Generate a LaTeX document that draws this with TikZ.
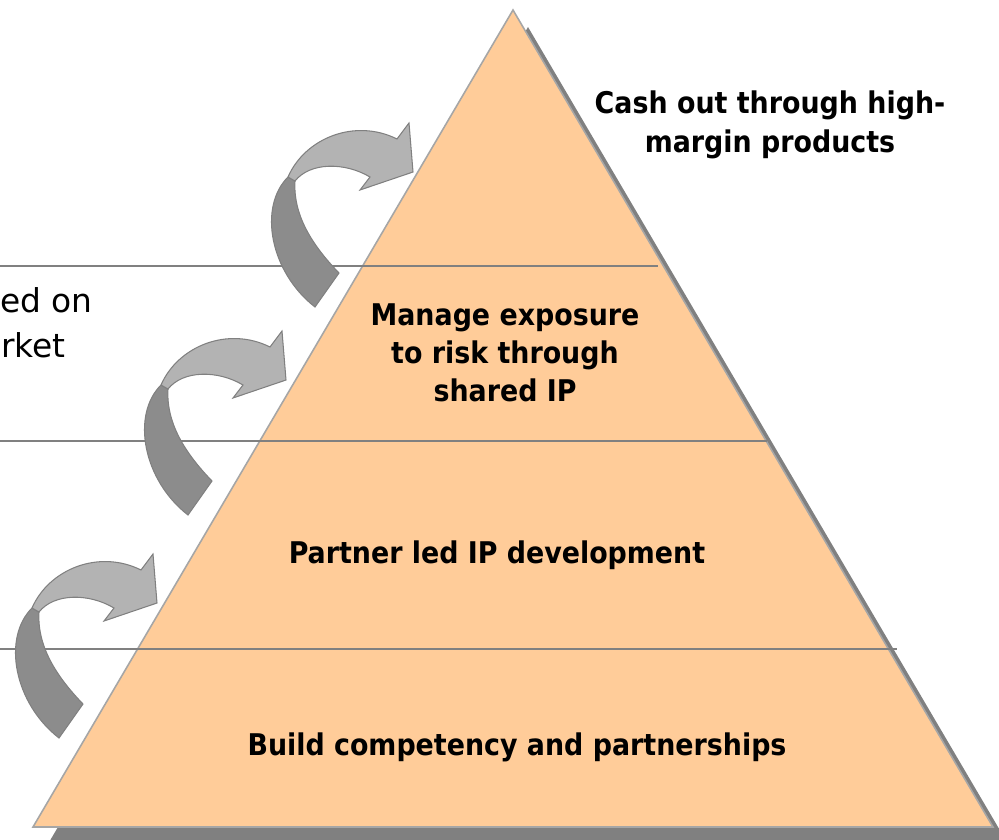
\documentclass[tikz,border=0pt]{standalone}
\usepackage{fontspec}
\setmainfont{DejaVu Sans Condensed}
\newfontfamily\sidefont{DejaVu Sans}
\usepackage{tikz}

\definecolor{peach}{HTML}{FFCC99}
\definecolor{edgegray}{HTML}{A6A6A6}
\definecolor{shadowgray}{HTML}{808080}
\definecolor{bandlight}{HTML}{B3B3B3}
\definecolor{banddark}{HTML}{8C8C8C}

\tikzset{
	tierlabel/.style={font=\bfseries\fontsize{17}{21.8}\selectfont, inner sep=0pt, align=center},
	sidelabel/.style={font=\sidefont\fontsize{18.7}{25}\selectfont, inner sep=0pt},
	tierline/.style={shadowgray, line width=1.5pt},
	bandedge/.style={draw=shadowgray, line width=0.6pt}
}

\begin{document}
\begin{tikzpicture}[x=0.02cm, y=-0.02cm]
\useasboundingbox (0,0) rectangle (999,839);
\clip (0,0) rectangle (999,839);
%shadow
\fill[shadowgray] (528,27) -- (1008,844) -- (48,844) -- cycle;
%pyramid
\filldraw[fill=peach, draw=edgegray, line width=0.9pt] (513,10) -- (993,827) -- (33,827) -- cycle;
%tier lines
\foreach \y/\xe in {266/658, 441/767, 649/897}{
	\draw[tierline] (0,\y) -- (\xe,\y);
	}
%curved arrows
\foreach \tx/\ty in {413/172, 286/380, 157/603}{
	\begin{scope}[shift={(\tx,\ty)}]
		\filldraw[fill=banddark, bandedge] (-125,5) .. controls (-155,35) and (-143,100) .. (-98,135)
			-- (-74,101) .. controls (-101,73) and (-120,43) .. (-118,9) -- cycle;
		\filldraw[fill=bandlight, bandedge] (-125,5) .. controls (-108,-34) and (-58,-54) .. (-16,-33)
			-- (-4,-49) -- (0,0) -- (-53,18) -- (-43,5)
			.. controls (-68,-10) and (-103,-10) .. (-118,9) -- cycle;
	\end{scope}
	}
%labels
\node[tierlabel] (cashout) at (770,125) {Cash out through high-\\margin products};
\node[tierlabel] (manage) at (505,353) {Manage exposure\\to risk through\\shared IP};
\node[tierlabel, anchor=base] (partner) at (497,563) {Partner led IP development};
\node[tierlabel, anchor=base] (build) at (517,755) {Build competency and partnerships};
\node[sidelabel, anchor=base east] (basedon) at (93,312) {ed on};
\node[sidelabel, anchor=base west] (market) at (1,357) {rket};
\end{tikzpicture}
\end{document}
